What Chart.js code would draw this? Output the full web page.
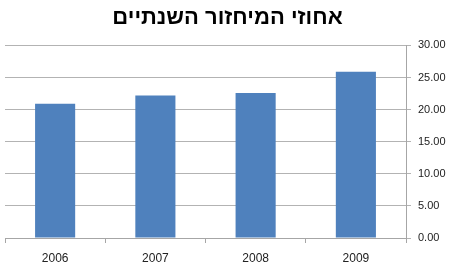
<!DOCTYPE html>
<html>
<head>
<meta charset="utf-8">
<script src="https://cdn.jsdelivr.net/npm/chart.js@4"></script>
<style>
html,body{margin:0;padding:0;background:#fff;}
#wrap{width:450px;height:270px;}
</style>
</head>
<body>
<div id="wrap"><canvas id="c" width="450" height="270"></canvas></div>
<script>
const title = "אחוזי המיחזור השנתיים";
const categories = ["2006", "2007", "2008", "2009"];
const values = [20.9, 22.2, 22.6, 25.9];
const yTicks = [0, 5, 10, 15, 20, 25, 30];

new Chart(document.getElementById('c'), {
  type: 'bar',
  data: {
    labels: categories,
    datasets: [{
      data: values,
      backgroundColor: '#4F81BD',
      borderWidth: 0,
      barPercentage: 0.4,
      categoryPercentage: 1.0
    }]
  },
  options: {
    responsive: false,
    animation: false,
    devicePixelRatio: 1,
    layout: { padding: { left: 5, right: 0, top: 0, bottom: 0 } },
    plugins: {
      legend: { display: false },
      tooltip: { enabled: false },
      title: {
        display: true,
        text: title,
        color: '#000',
        font: { family: 'Liberation Sans', size: 22, weight: 'bold' },
        padding: { top: 5, bottom: 14 }
      }
    },
    scales: {
      x: {
        grid: { display: true, drawOnChartArea: false, drawTicks: true, tickLength: 5, color: '#a6a6a6', offset: true },
        border: { display: true, color: '#a6a6a6' },
        ticks: { color: '#222', font: { family: 'Liberation Sans', size: 12 }, padding: 8 },
        afterFit: s => { s.height = 32; }
      },
      y: {
        position: 'right',
        min: 0, max: 30,
        afterBuildTicks: s => { s.ticks = yTicks.map(v => ({ value: v })); },
        grid: { color: '#b3b3b3', tickLength: 5 },
        border: { display: true, color: '#a6a6a6' },
        ticks: { color: '#222', font: { family: 'Liberation Sans', size: 11 }, padding: 7, callback: v => Number(v).toFixed(2) },
        afterFit: s => { s.width = 44; }
      }
    }
  }
});
</script>
</body>
</html>
